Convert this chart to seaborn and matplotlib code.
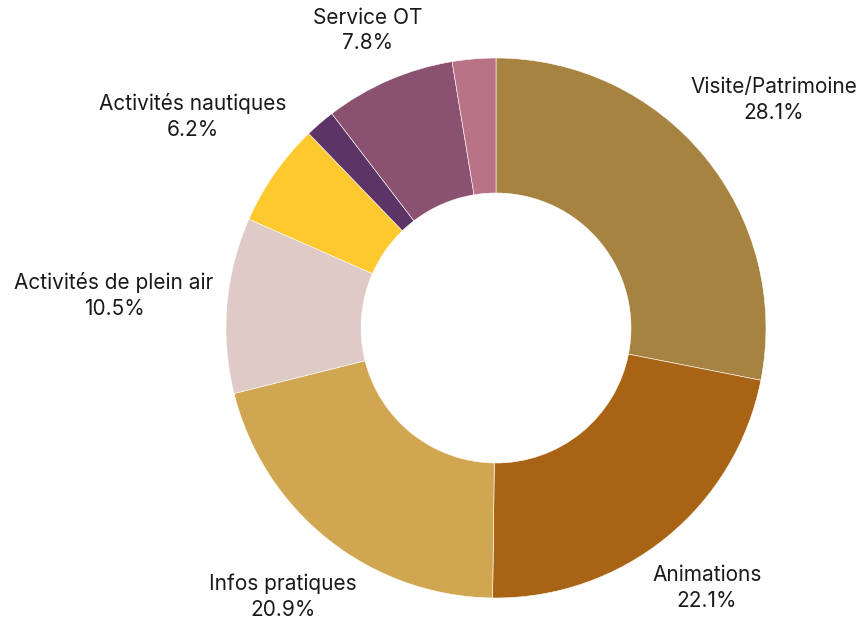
import matplotlib
matplotlib.use("Agg")
import matplotlib.pyplot as plt
import numpy as np
import seaborn as sns

# data
categories = ["Visite/Patrimoine", "Animations", "Infos pratiques", "Activités de plein air",
              "Activités nautiques", "Autres", "Service OT", "Divers"]
shares = [28.1, 22.1, 20.9, 10.5, 6.2, 1.8, 7.8, 2.6]
show_label = [True, True, True, True, True, False, True, False]

colors = ["#A68340", "#A86414", "#D1A651", "#DFCAC8", "#FEC82F", "#5C3566", "#8A5170", "#B87385"]
# label distance from centre, in units of the outer radius
label_radius = [1.33, 1.24, 1.27, 1.42, 1.37, 1.2, 1.2, 1.2]

sns.set_theme(style="white")
plt.rcParams["font.family"] = ["Inter", "DejaVu Sans"]

fig = plt.figure(figsize=(8.63, 6.19), dpi=100)
ax = fig.add_axes([0, 0, 1, 1])

palette = sns.color_palette(colors)
wedges, _ = ax.pie(shares, colors=palette, startangle=90, counterclock=False, radius=1.0,
                   wedgeprops=dict(width=0.5, edgecolor="white", linewidth=0.4))

total = sum(shares)
cum = np.cumsum([0] + shares[:-1])
for name, val, c0, show, r in zip(categories, shares, cum, show_label, label_radius):
    if not show:
        continue
    theta = np.deg2rad(90 - 360 * (c0 + val / 2) / total)
    x, y = r * np.cos(theta), r * np.sin(theta)
    ax.text(x, y, f"{name}\n{val:.1f}%", ha="center", va="center", fontsize=15,
            color="#1a1a1a", linespacing=1.35)

# outer radius = 270 px, centre at (496, 328) px from top-left
ax.set_xlim(-496 / 270, 367 / 270)
ax.set_ylim(-291 / 270, 328 / 270)
ax.set_aspect("equal", adjustable="box")
ax.axis("off")

fig.savefig("out.png", dpi=100)
